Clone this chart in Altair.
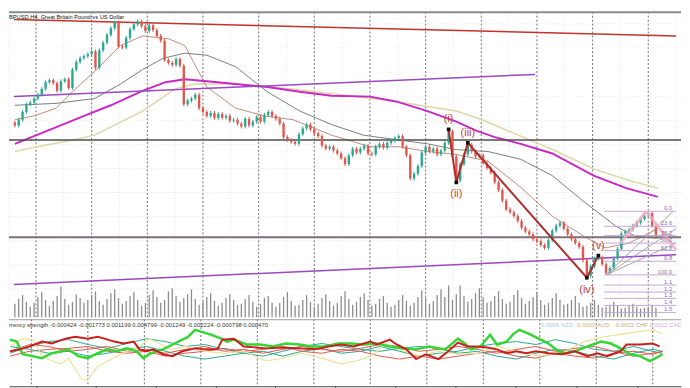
import altair as alt
import pandas as pd

# ---------------- data ----------------
# H4 closes (GBPUSD), one per candle
closes = [
    1.3928, 1.3952, 1.3984, 1.4016, 1.4024, 1.4040, 1.4056, 1.4080, 1.4108, 1.4116,
    1.4104, 1.4072, 1.4112, 1.4120, 1.4084, 1.4160, 1.4192, 1.4208, 1.4216, 1.4224,
    1.4236, 1.4168, 1.4240, 1.4272, 1.4304, 1.4332, 1.4356, 1.4256, 1.4252, 1.4292,
    1.4328, 1.4348, 1.4360, 1.4340, 1.4320, 1.4344, 1.4324, 1.4300, 1.4280, 1.4200,
    1.4188, 1.4180, 1.4204, 1.4176, 1.4016, 1.4032, 1.4040, 1.4056, 1.4000, 1.3984,
    1.3968, 1.3980, 1.3960, 1.3976, 1.3960, 1.3968, 1.3948, 1.3952, 1.3936, 1.3924,
    1.3956, 1.3928, 1.3944, 1.3964, 1.3944, 1.3972, 1.3984, 1.3968, 1.3956, 1.3936,
    1.3880, 1.3868, 1.3860, 1.3852, 1.3892, 1.3916, 1.3932, 1.3912, 1.3896, 1.3884,
    1.3844, 1.3832, 1.3840, 1.3824, 1.3812, 1.3792, 1.3768, 1.3804, 1.3832, 1.3816,
    1.3832, 1.3844, 1.3812, 1.3808, 1.3840, 1.3852, 1.3836, 1.3856, 1.3864, 1.3876,
    1.3884, 1.3840, 1.3804, 1.3708, 1.3728, 1.3760, 1.3816, 1.3840, 1.3820, 1.3832,
    1.3808, 1.3824, 1.3856, 1.3904, 1.3800, 1.3700, 1.3768, 1.3808, 1.3848, 1.3820,
    1.3800, 1.3804, 1.3772, 1.3752, 1.3732, 1.3692, 1.3660, 1.3616, 1.3580, 1.3568,
    1.3552, 1.3532, 1.3504, 1.3488, 1.3476, 1.3456, 1.3448, 1.3432, 1.3420, 1.3452,
    1.3492, 1.3512, 1.3524, 1.3500, 1.3476, 1.3456, 1.3440, 1.3424, 1.3368, 1.3304,
    1.3344, 1.3376, 1.3380, 1.3352, 1.3316, 1.3336, 1.3376, 1.3416, 1.3480, 1.3488,
    1.3496, 1.3512, 1.3524, 1.3540, 1.3556, 1.3564, 1.3512, 1.3472,
]
first_open = 1.3940
wick = 0.0008

volumes = [
    1400, 1900, 2300, 1600, 1100, 1500, 2100, 2600, 1800, 1200,
    1700, 2200, 3200, 1900, 1300, 1600, 2400, 2000, 1500, 1800,
    2300, 2700, 1700, 1300, 1900, 2500, 2900, 2000, 1400, 1700,
    2200, 2600, 1800, 1200, 1500, 2300, 2800, 2100, 1500, 1800,
    2700, 3000, 2200, 1600, 2000, 2400, 2900, 1900, 1300, 1600,
    2100, 2500, 1700, 1200, 1500, 2000, 2400, 1800, 1300, 1400,
    1900, 2300, 1600, 1100, 1400, 2000, 2200, 1500, 1100, 1500,
    2100, 2600, 1700, 1200, 1300, 1800, 2300, 1600, 1100, 1400,
    2000, 2400, 1700, 1200, 1500, 2200, 2700, 1900, 1300, 1600,
    2100, 2500, 1800, 1200, 1400, 1900, 2200, 1500, 1100, 1300,
    1800, 2300, 1700, 1200, 1500, 2100, 2800, 2000, 1400, 1700,
    2300, 2900, 2100, 3300, 1800, 2400, 3300, 2200, 1600, 1900,
    2500, 3000, 2100, 1500, 1700, 2200, 2700, 1900, 1400, 1600,
    2300, 2800, 2000, 1400, 1700, 2100, 2600, 1800, 1300, 1500,
    2000, 2500, 1800, 1300, 1400, 1800, 2200, 1500, 1100, 1200,
    1500, 1800, 1300, 1000, 1100, 1300, 1600, 1200, 900, 1000,
    1200, 1400, 1100, 900, 1000, 1100, 1300, 1000,
]

# moving averages: (candle index, price)
ma_magenta_t = [0, 5, 16.75, 25, 33.25, 39.25, 44.25, 50, 57.5, 65.75, 74.25, 82.5, 92.5,
                99.25, 107.5, 115, 120, 125, 131.75, 140, 150.75, 159.25, 167.5]
ma_magenta_p = [1.3852, 1.3884, 1.3960, 1.4012, 1.4072, 1.4108, 1.4120, 1.4112, 1.4100, 1.4088,
                1.4068, 1.4052, 1.4048, 1.4028, 1.3988, 1.3944, 1.3908, 1.3880, 1.3852, 1.3812,
                1.3720, 1.3668, 1.3632]
ma_beige_t = [0, 5.75, 12.5, 20.75, 33.25, 41.75, 46.75, 57.5, 72.5, 85, 99.25, 115, 121.75,
              131.75, 141.25, 150.75, 160, 167.5]
ma_beige_p = [1.3820, 1.3840, 1.3860, 1.3888, 1.3988, 1.4080, 1.4100, 1.4100, 1.4080, 1.4056,
              1.4028, 1.3988, 1.3952, 1.3884, 1.3820, 1.3748, 1.3700, 1.3668]
ma_gray_t = [0, 10.75, 20.75, 27.5, 33.25, 38.75, 44.25, 50, 57.5, 65.75, 74.25, 82.5, 90.75,
             100, 107.5, 115, 123.25, 131.75, 140, 148.25, 156.75, 161.75, 167.5]
ma_gray_p = [1.4012, 1.4020, 1.4040, 1.4100, 1.4160, 1.4208, 1.4228, 1.4220, 1.4172, 1.4068,
             1.3988, 1.3932, 1.3888, 1.3868, 1.3852, 1.3828, 1.3820, 1.3788, 1.3720, 1.3612,
             1.3508, 1.3468, 1.3460]
ma_brown_t = [0, 5, 10.75, 15.75, 20.75, 27.5, 33.25, 40, 44.25, 50, 57.5, 65, 72.5, 82.5,
              92.5, 100, 107.5, 115, 123.25, 131.75, 140, 148.25, 153.75, 160, 167.5]
ma_brown_p = [1.3952, 1.3968, 1.4000, 1.4080, 1.4152, 1.4260, 1.4300, 1.4288, 1.4260, 1.4088,
              1.4000, 1.3968, 1.3952, 1.3888, 1.3840, 1.3840, 1.3820, 1.3808, 1.3780, 1.3672,
              1.3552, 1.3468, 1.3420, 1.3440, 1.3500]

# trend lines (start / end)
trend_red_t = [-0.25, 172.25]
trend_red_p = [1.4368, 1.4300]
trend_purple_hi_t = [-0.25, 135.5]
trend_purple_hi_p = [1.4048, 1.4140]
trend_purple_lo_t = [-0.25, 172.25]
trend_purple_lo_p = [1.3268, 1.3392]
level_dark = 1.3868
level_mauve = 1.3464

# Elliott wave points
wave_t = [113, 115, 118, 149, 152]
wave_p = [1.3912, 1.3692, 1.3856, 1.3296, 1.3388]
wave_lbl = ["(i)", "(ii)", "(iii)", "(iv)", "(v)"]
wave_pos = ["above", "below", "above", "below", "above"]

# Fibonacci retracement
fib_high = 1.3572
fib_low = 1.3308
fib_start = 153.5
fib_end = 172.25
fib_levels = [0, 0.236, 0.382, 0.5, 0.618, 0.786, 1.0, 1.16, 1.27, 1.37, 1.48, 1.59]
fib_labels = ["0.0", "23.6", "38.2", "50.0", "61.8", "0.8", "100.0", "1.1", "1.2", "1.3", "1.4", "1.5"]
fan_gray_t = [[154, 171.5], [154, 172.25], [154, 172.25]]
fan_gray_p = [[1.3308, 1.3572], [1.3308, 1.3500], [1.3308, 1.3440]]
fan_pink_t = [[164.5, 172.25], [157.75, 164.5]]
fan_pink_p = [[1.3572, 1.3412], [1.3440, 1.3572]]

# currency strength panel
red_t = [0, 2.5, 5, 8.25, 10.75, 14.25, 16.75, 20, 22.5, 24.25, 26.75, 29.25, 31.75, 33.25, 35,
         36.75, 39.25, 41.75, 44.25, 47.5, 50, 53.25, 54.5, 57.5, 60, 63.25, 65.75, 70, 74.25,
         78.25, 81.75, 85, 88.25, 92.5, 94.25, 97.5, 99.25, 101.75, 104.25, 106.75, 110, 112.5,
         115, 117.5, 120, 122.5, 125, 127.5, 130, 132.5, 135, 138.25, 141.75, 145, 148.25,
         150.75, 153.25, 156.75, 158.25, 161.75, 165, 166.75]
red_v = [0, 0.0002, 0.0005, 0.0010, 0.0008, 0.0013, 0.0015, 0.0013, 0.0015, 0.0013, 0.0010,
         0.0008, 0.0010, 0.0002, 0, 0.0002, -0.0003, -0.0005, 0, 0.0003, 0.0002, 0.0002, 0.0012,
         0.0013, 0.0005, 0.0004, 0.0003, 0.0004, 0.0003, 0.0002, 0.0005, 0.0007, 0.0005, 0.0010,
         0.0007, 0.0012, 0.0007, 0.0002, -0.0008, -0.0003, -0.0008, 0, 0.0009, 0.0005, 0.0005,
         0.0004, 0.0002, -0.0002, 0, -0.0002, 0, -0.0002, -0.0003, 0, -0.0005, -0.0002, -0.0005,
         0, 0.0007, 0.0007, 0.0008, 0.0005]
green_t = [0, 1.75, 3.25, 5.75, 8.25, 10.75, 13.25, 15, 17.5, 20, 22.5, 25, 27.5, 30, 32.5,
           34.25, 35.75, 37.5, 39.25, 41.75, 43.25, 45.75, 47.5, 49.25, 51.75, 54.25, 55.75,
           57.5, 60.75, 64.25, 67.5, 70.75, 74.25, 77.5, 80.75, 84.25, 87.5, 90.75, 94.25, 97.5,
           100.75, 104.25, 107.5, 111.75, 115, 116.75, 118.25, 120.75, 123.25, 125, 127.5,
           129.25, 130.75, 133.25, 135.75, 138.25, 140.75, 142.5, 145, 148.25, 151.75, 154.25,
           156.75, 159.25, 161.75, 164.25, 165.75, 167.5]
green_v = [0.0012, 0.0010, -0.0003, -0.0005, -0.0007, -0.0002, 0, 0.0002, -0.0005, -0.0007,
           -0.0002, 0.0002, 0, 0.0003, 0, -0.0007, -0.0003, 0, 0.0002, 0.0007, 0.0010, 0.0015,
           0.0022, 0.0020, 0.0017, 0.0013, 0.0010, 0.0012, 0.0007, 0.0007, 0.0005, 0.0008,
           0.0007, 0.0005, 0.0005, 0.0008, 0.0008, 0.0007, 0.0008, 0.0005, 0.0003, 0.0002,
           0.0005, 0.0002, 0.0013, 0.0008, 0.0002, 0.0005, 0.0017, 0.0007, 0.0010, 0.0018,
           0.0022, 0.0018, 0.0013, 0.0008, 0, -0.0002, 0, 0.0005, 0.0010, 0.0008, 0.0003,
           -0.0003, -0.0005, -0.0010, -0.0007, -0.0003]
yellow_t = [0, 3.25, 5.75, 8.25, 10.75, 13.25, 15, 16.75, 18.25, 20, 21.25, 22.5, 25, 27.5, 30,
            33.25, 35.75, 38.25, 41.25, 45, 50, 55, 60, 65.75, 70, 75, 80, 85, 88.75, 91.25,
            93.75, 96.25, 100, 105, 110, 115, 120, 125, 130, 136.25, 142.5, 147.5, 152.5,
            157.5, 161.25, 165, 167.5]
yellow_v = [0.0005, 0.0013, 0.0012, -0.0005, -0.0010, -0.0013, -0.0007, -0.0018, -0.0028,
            -0.0030, -0.0022, -0.0016, -0.0010, -0.0005, 0, 0.0005, 0.0013, 0.0008, 0.0002,
            0.0005, 0, -0.0002, 0, -0.0010, -0.0007, -0.0002, -0.0007, -0.0013, -0.0010,
            -0.0007, -0.0002, 0.0008, 0.0002, -0.0005, 0, -0.0003, -0.0002, 0.0005, 0,
            -0.0005, 0, 0.0010, 0.0015, 0.0018, 0.0020, 0.0022, 0.0018]
faint_t = [0, 5, 10, 15, 20, 25, 30, 35, 40, 45, 50, 55, 60, 65, 70, 75, 80, 85, 90, 95, 100,
           105, 110, 115, 120, 125, 130, 135, 140, 145, 150, 155, 160, 165, 167.5]
tan_v = [-0.0002, 0.0005, 0.0010, 0.0012, 0.0007, 0.0003, 0.0008, 0.0013, 0.0010, 0.0005,
         0.0007, 0.0002, -0.0002, 0, -0.0005, 0, 0.0003, -0.0002, 0, 0.0005, 0, -0.0005,
         -0.0002, 0, 0.0005, 0.0008, 0.0010, 0.0007, 0.0012, 0.0008, 0.0002, 0, 0.0005, 0, -0.0002]
blue_v = [-0.0005, 0, 0.0002, 0.0003, 0.0005, 0, -0.0002, 0, -0.0005, -0.0002, 0, 0.0003, 0,
          0.0002, 0.0005, 0, -0.0002, 0.0002, 0, -0.0005, -0.0008, -0.0005, -0.0008, -0.0005,
          -0.0002, 0, -0.0005, -0.0007, -0.0002, -0.0005, -0.0007, -0.0002, 0, -0.0003, 0]
lav_v = [0.0005, 0.0002, -0.0002, 0, -0.0005, -0.0002, 0.0002, 0.0005, 0, -0.0005, -0.0008,
         -0.0005, -0.0002, -0.0005, 0, 0.0005, 0.0008, 0.0005, 0.0002, 0, 0.0003, 0.0005,
         0.0003, -0.0002, 0, -0.0005, -0.0008, -0.0002, 0.0002, 0, -0.0005, -0.0008, -0.0002,
         0.0002, 0]
gray_v = [0, 0.0007, 0.0005, 0, 0.0002, 0.0005, 0, 0.0002, -0.0002, 0.0002, 0.0005, 0, 0.0002,
          -0.0002, 0.0002, 0.0005, 0.0002, 0, 0.0003, 0.0007, 0.0005, 0, 0.0002, 0.0005, 0.0002,
          -0.0002, 0.0002, 0.0005, 0, 0.0003, 0.0005, 0, -0.0005, -0.0002, 0]

# time grid
grid_major = [5.5, 20, 34.5, 49, 63.5, 78, 92.5, 107, 121.5, 136, 150.5, 165]
grid_minor = [-1.5, 12.75, 27.25, 41.75, 56.25, 70.75, 85.25, 99.75, 114.25, 128.75, 143.25,
              157.75, 172.25]
price_grid = [1.3250, 1.3350, 1.3450, 1.3550, 1.3650, 1.3750, 1.3850, 1.3950, 1.4050, 1.4150,
              1.4250, 1.4350]
axis_ticks = [6.75, 22, 37.5, 52.75, 68, 83.5, 99, 114.25, 129.75, 145.5, 161]

title_text = "BPUSD,H4, Great Britain Pound vs US Dollar"
ind_text = ("rrency strength -0.000424 -0.001773 0.001199 0.004799 -0.001249 "
            "-0.002224 -0.000798 0.000470")
legend_items = ["0.0006 NZD", "-0.0000 AUD", "-0.0022 CHF", "0.0012 CAD"]
legend_colors = ["#a9c9dc", "#d8ae72", "#b8a48e", "#d3a9d6"]
legend_px = [540, 575, 614, 650]

# ---------------- layout ----------------
W = 682
H_MAIN = 310
H_IND = 68
X_DOM = [-0.25, 172.25]
P_DOM = [1.3132, 1.4400]
S_DOM = [-0.0036, 0.0033]
V_DOM = [0, 31700]
FONT = "Liberation Sans"


def X(field="t", axis=None):
    return alt.X(f"{field}:Q", scale=alt.Scale(domain=X_DOM, nice=False, zero=False), axis=axis)


def PY(field="p"):
    return alt.Y(f"{field}:Q", scale=alt.Scale(domain=P_DOM, nice=False, zero=False), axis=None)


def SY(field="v"):
    return alt.Y(f"{field}:Q", scale=alt.Scale(domain=S_DOM, nice=False, zero=False), axis=None)


# candles
rows = []
prev = first_open
for i, c in enumerate(closes):
    o = prev
    rows.append({"t": i, "open": o, "close": c,
                 "high": max(o, c) + wick, "low": min(o, c) - wick,
                 "dir": "up" if c >= o else "down"})
    prev = c
cdf = pd.DataFrame(rows)
vdf = pd.DataFrame({"t": list(range(len(volumes))), "vol": volumes})

cscale = alt.Scale(domain=["up", "down"], range=["#2aa88e", "#e0564c"])

minor_v = alt.Chart(pd.DataFrame({"t": grid_minor})).mark_rule(
    color="#e6e6e6", strokeDash=[1, 2], strokeWidth=1).encode(x=X())
minor_h = alt.Chart(pd.DataFrame({"p": price_grid})).mark_rule(
    color="#e6e6e6", strokeDash=[1, 2], strokeWidth=1).encode(y=PY())
major_v = alt.Chart(pd.DataFrame({"t": grid_major})).mark_rule(
    color="#6e6e6e", strokeDash=[2, 2], strokeWidth=1).encode(x=X())

vol = alt.Chart(vdf).mark_bar(color="#8c8c8c", width=1.3).encode(
    x=X(), y=alt.Y("vol:Q", scale=alt.Scale(domain=V_DOM, nice=False), axis=None))


def line_layer(ts, ps, color, width, dash=None):
    kw = dict(color=color, strokeWidth=width, clip=True)
    if dash:
        kw["strokeDash"] = dash
    return alt.Chart(pd.DataFrame({"t": ts, "p": ps})).mark_line(**kw).encode(x=X(), y=PY())


ma_layers = [
    line_layer(ma_beige_t, ma_beige_p, "#dcd8a6", 1.5),
    line_layer(ma_gray_t, ma_gray_p, "#7c7c7c", 1),
    line_layer(ma_brown_t, ma_brown_p, "#c08a7c", 1),
    line_layer(ma_magenta_t, ma_magenta_p, "#cc26c8", 2),
]
trend_layers = [
    line_layer(trend_red_t, trend_red_p, "#c2322c", 1.5),
    line_layer(trend_purple_hi_t, trend_purple_hi_p, "#9a48c4", 1.5),
    line_layer(trend_purple_lo_t, trend_purple_lo_p, "#9a48c4", 1.5),
]
hlines = [
    alt.Chart(pd.DataFrame({"p": [level_dark]})).mark_rule(color="#4e4e4e", strokeWidth=1.5).encode(y=PY()),
    alt.Chart(pd.DataFrame({"p": [level_mauve]})).mark_rule(color="#806e78", strokeWidth=2).encode(y=PY()),
]

wicks = alt.Chart(cdf).mark_rule(strokeWidth=1).encode(
    x=X(), y=PY("low"), y2=alt.Y2("high:Q"),
    color=alt.Color("dir:N", scale=cscale, legend=None))
bodies = alt.Chart(cdf).mark_bar(width=2.4).encode(
    x=X(), y=PY("open"), y2=alt.Y2("close:Q"),
    color=alt.Color("dir:N", scale=cscale, legend=None))

wdf = pd.DataFrame({"t": wave_t, "p": wave_p, "lbl": wave_lbl, "pos": wave_pos})
wave_line = alt.Chart(wdf).mark_line(color="#b02c2c", strokeWidth=2).encode(x=X(), y=PY())
wave_pts = alt.Chart(wdf).mark_point(shape="square", filled=True, color="#111111", size=14,
                                     opacity=1).encode(x=X(), y=PY())
wave_above = alt.Chart(wdf).transform_filter(alt.datum.pos == "above").mark_text(
    color="#c23c36", fontSize=11, font=FONT, dy=-10).encode(x=X(), y=PY(), text="lbl:N")
wave_below = alt.Chart(wdf).transform_filter(alt.datum.pos == "below").mark_text(
    color="#c23c36", fontSize=11, font=FONT, dy=12).encode(x=X(), y=PY(), text="lbl:N")

fdf = pd.DataFrame({"lvl": fib_levels, "lbl": fib_labels})
fdf["p"] = fib_high - fdf["lvl"] * (fib_high - fib_low)
fdf["t0"] = fib_start
fdf["t1"] = fib_end
fdf["tl"] = 171.25
fib_lines = alt.Chart(fdf).mark_rule(color="#c7a6d6", strokeWidth=1, clip=True).encode(
    x=X("t0"), x2=alt.X2("t1:Q"), y=PY())
fib_text = alt.Chart(fdf).mark_text(color="#8e6e9e", fontSize=6, font=FONT, align="right",
                                    baseline="bottom", dy=0).encode(x=X("tl"), y=PY(), text="lbl:N")

fan_rows = []
for k, (ts, ps) in enumerate(zip(fan_gray_t, fan_gray_p)):
    for tt, pp in zip(ts, ps):
        fan_rows.append({"t": tt, "p": pp, "g": f"g{k}"})
fan_gray = alt.Chart(pd.DataFrame(fan_rows)).mark_line(color="#a8a8a8", strokeWidth=1, clip=True).encode(
    x=X(), y=PY(), detail="g:N")
pink_rows = []
for k, (ts, ps) in enumerate(zip(fan_pink_t, fan_pink_p)):
    for tt, pp in zip(ts, ps):
        pink_rows.append({"t": tt, "p": pp, "g": f"p{k}"})
fan_pink = alt.Chart(pd.DataFrame(pink_rows)).mark_line(color="#f2a9c6", strokeWidth=3, opacity=0.8,
                                                        clip=True).encode(x=X(), y=PY(), detail="g:N")

title = alt.Chart(pd.DataFrame({"s": [title_text]})).mark_text(
    font=FONT, fontSize=5.8, color="#111111", align="left", baseline="top").encode(
    x=alt.value(0), y=alt.value(2), text="s:N")
top_border = alt.Chart(pd.DataFrame({"a": [0]})).mark_rule(color="#8a8a8a", strokeWidth=2).encode(
    y=alt.value(0.5))

main = alt.layer(
    minor_v, minor_h, major_v, vol, *ma_layers, *trend_layers, *hlines,
    wicks, bodies, fib_lines, fan_gray, fan_pink, wave_line, wave_pts, wave_above, wave_below,
    fib_text, title, top_border,
).resolve_scale(y="independent").properties(width=W, height=H_MAIN)

# ---------- indicator panel ----------
ind_rows = []
for name, vals in [("tan", tan_v), ("blue", blue_v), ("lav", lav_v), ("gray", gray_v)]:
    for tt, vv in zip(faint_t, vals):
        ind_rows.append({"t": tt, "v": vv, "s": name})
faint = alt.Chart(pd.DataFrame(ind_rows)).mark_line(strokeWidth=1, clip=True).encode(
    x=X(axis=alt.Axis(values=axis_ticks, labels=False, title=None, tickSize=5, grid=False,
                      domainColor="#444444", tickColor="#444444", domainWidth=1)),
    y=SY(), detail="s:N",
    color=alt.Color("s:N", scale=alt.Scale(domain=["tan", "blue", "lav", "gray"],
                                           range=["#d4c0aa", "#b2cee0", "#d9c4de", "#c4c4c4"]),
                    legend=None))
yellow = alt.Chart(pd.DataFrame({"t": yellow_t, "v": yellow_v})).mark_line(
    color="#e9e39a", strokeWidth=1.2, clip=True).encode(x=X(), y=SY())
green = alt.Chart(pd.DataFrame({"t": green_t, "v": green_v})).mark_line(
    color="#33d633", strokeWidth=2.5, clip=True).encode(x=X(), y=SY())
red = alt.Chart(pd.DataFrame({"t": red_t, "v": red_v})).mark_line(
    color="#c8201e", strokeWidth=2, clip=True).encode(x=X(), y=SY())
major_v2 = alt.Chart(pd.DataFrame({"t": grid_major})).mark_rule(
    color="#6e6e6e", strokeDash=[2, 2], strokeWidth=1).encode(x=X())
sep = alt.Chart(pd.DataFrame({"a": [0]})).mark_rule(color="#9a9a9a", strokeWidth=1).encode(
    y=alt.value(0.5))
ind_label = alt.Chart(pd.DataFrame({"s": [ind_text]})).mark_text(
    font=FONT, fontSize=6, color="#333333", align="left", baseline="middle").encode(
    x=alt.value(0), y=alt.value(6), text="s:N")
leg_df = pd.DataFrame({"s": legend_items, "c": legend_colors, "px": legend_px})
leg = alt.Chart(leg_df).mark_text(font=FONT, fontSize=6, align="left", baseline="middle",
                                  clip=True).encode(
    x=alt.X("px:Q", scale=alt.Scale(domain=[0, W], range=[0, W], nice=False), axis=None),
    y=alt.value(6), text="s:N", color=alt.Color("c:N", scale=None))

ind = alt.layer(major_v2, faint, yellow, green, red, sep, ind_label, leg).resolve_scale(
    x="independent").properties(width=W, height=H_IND)

chart = alt.vconcat(main, ind, spacing=0).properties(
    padding=0, background="white").configure_view(stroke=None)

chart.save("out.html", embed_options={"renderer": "svg", "actions": False})
